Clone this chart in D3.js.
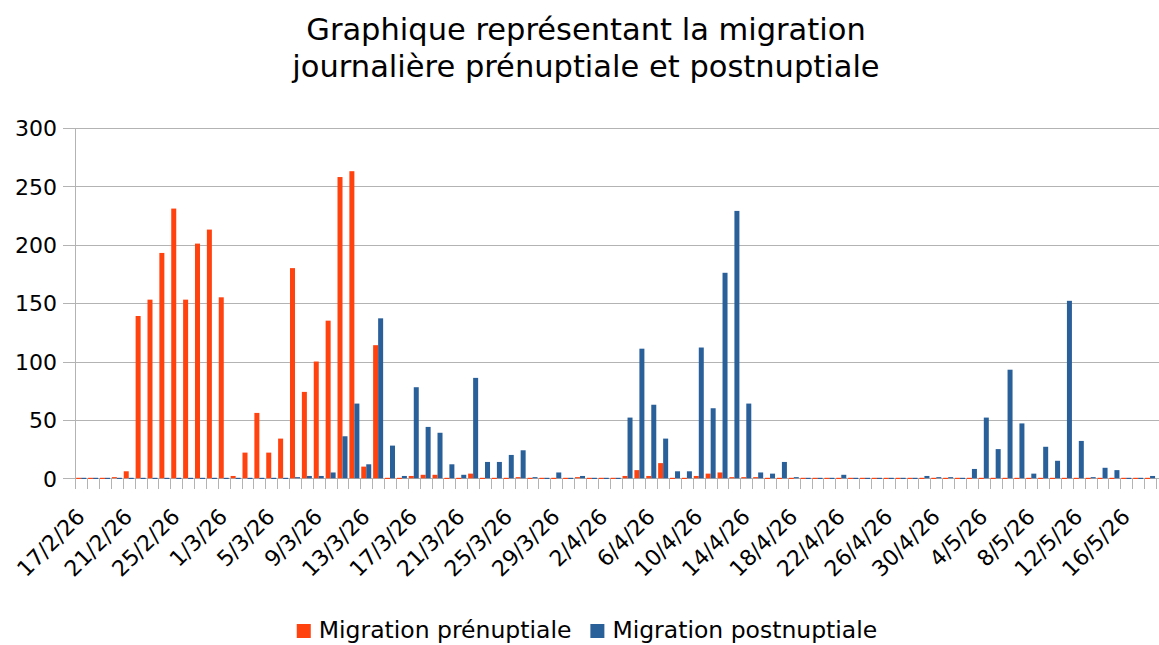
<!DOCTYPE html>
<html>
<head>
<meta charset="utf-8">
<script src="https://cdn.jsdelivr.net/npm/d3@7"></script>
<style>
  body { margin: 0; background: #fff; }
  svg { display: block; font-family: "DejaVu Sans", sans-serif; }
</style>
</head>
<body>
<svg class="chart" width="1159" height="645"></svg>
<script>
// daily categories 17/2/26 -> 18/5/26
var days = d3.timeDay.range(new Date(2026, 1, 17), new Date(2026, 4, 19))
var seriesNames = ['Migration prénuptiale', 'Migration postnuptiale']
var colors = ['#ff420e', '#2a6099']
var yTicks = [0, 50, 100, 150, 200, 250, 300]

var prenuptiale = [
    0, 0, 0, 1, 6, 139, 153, 193, 231, 153, 201, 213, 155, 2, 22, 56, 22, 34, 180, 74,
    100, 135, 258, 263, 10, 114, 0, 0, 2, 3, 3, 0, 0, 4, 0, 0, 0, 1, 0, 0,
    0, 0, 1, 0, 0, 0, 2, 7, 2, 13, 0, 0, 2, 4, 5, 1, 1, 1, 0, 0,
    0, 0, 0, 0, 0, 0, 0, 0, 0, 0, 0, 0, 0, 0, 0, 0, 0, 0, 0, 0,
    0, 0, 0, 0, 0, 0, 0, 0, 0, 0, 0
]
var postnuptiale = [
    0, 0, 0, 0, 0, 0, 0, 0, 0, 0, 0, 0, 0, 0, 0, 0, 0, 0, 1, 2,
    2, 5, 36, 64, 12, 137, 28, 2, 78, 44, 39, 12, 3, 86, 14, 14, 20, 24, 1, 0,
    5, 0, 2, 0, 0, 0, 52, 111, 63, 34, 6, 6, 112, 60, 176, 229, 64, 5, 4, 14,
    1, 0, 0, 0, 3, 0, 0, 0, 0, 0, 0, 2, 1, 1, 0, 8, 52, 25, 93, 47,
    4, 27, 15, 152, 32, 1, 9, 7, 0, 0, 2
]

var fmt = d3.timeFormat('%-d/%-m/%y')
var labels = days.map(fmt)

var svg = d3.select('.chart')

var xScale = d3.scaleBand().domain(labels).range([75.3, 1156]).padding(0)
var bw = xScale.bandwidth()
var xInner = d3.scaleBand().domain([0, 1]).range([bw / 2 - 5, bw / 2 + 5]).padding(0)
var yScale = d3.scaleLinear().domain([0, 300]).range([478.3, 128])

// title
svg.append('text')
    .attr('text-anchor', 'middle')
    .attr('font-size', 30.5)
    .attr('fill', '#000')
    .selectAll('tspan').data(['Graphique représentant la migration', 'journalière prénuptiale et postnuptiale'])
    .enter().append('tspan')
    .attr('x', 586)
    .attr('y', (d, i) => 40 + i * 37)
    .text(d => d)

// grid + y axis
svg.selectAll('.grid').data(yTicks)
    .enter().append('line')
    .attr('class', 'grid')
    .attr('x1', 63).attr('x2', 1159)
    .attr('y1', d => Math.round(yScale(d)) + 0.5)
    .attr('y2', d => Math.round(yScale(d)) + 0.5)
    .attr('stroke', '#b3b3b3')

svg.append('line')
    .attr('x1', 75.5).attr('x2', 75.5)
    .attr('y1', yScale(300)).attr('y2', yScale(0))
    .attr('stroke', '#b3b3b3')

svg.selectAll('.ylabel').data(yTicks)
    .enter().append('text')
    .attr('class', 'ylabel')
    .attr('x', 57)
    .attr('y', d => yScale(d) + 8.3)
    .attr('text-anchor', 'end')
    .attr('font-size', 22)
    .text(d => d)

// x ticks at category boundaries
var bounds = labels.map(d => xScale(d)).concat([xScale.range()[1]])
svg.selectAll('.xtick').data(bounds)
    .enter().append('line')
    .attr('class', 'xtick')
    .attr('x1', d => Math.round(d) + 0.5).attr('x2', d => Math.round(d) + 0.5)
    .attr('y1', yScale(0)).attr('y2', 489)
    .attr('stroke', '#b3b3b3')

// bars
var rows = labels.map((d, i) => ({ label: d, values: [prenuptiale[i], postnuptiale[i]] }))

var groups = svg.selectAll('.bar').data(rows)
    .enter().append('g')
    .attr('class', 'bar')
    .attr('transform', d => 'translate(' + xScale(d.label) + ', 0)')

groups.selectAll('rect').data(d => d.values)
    .enter().append('rect')
    .attr('x', (d, i) => xInner(i))
    .attr('width', xInner.bandwidth())
    .attr('y', d => yScale(d) - (d === 0 ? 0.5 : 0))
    .attr('height', d => Math.max(yScale(0) - yScale(d), 0) + (d === 0 ? 1.2 : 0))
    .attr('fill', (d, i) => colors[i])

// x labels every 4 days
svg.selectAll('.xlabel').data(labels.filter((d, i) => i % 4 === 0))
    .enter().append('text')
    .attr('class', 'xlabel')
    .attr('text-anchor', 'end')
    .attr('font-size', 22)
    .attr('transform', d => 'translate(' + (xScale(d) + bw / 2 + 5) + ', 518) rotate(-45)')
    .text(d => d)

// legend (kept just inside the bottom edge)
var legend = svg.append('g')
var lx = 0
seriesNames.forEach((name, i) => {
    legend.append('rect')
        .attr('x', lx).attr('y', 624)
        .attr('width', 14).attr('height', 14)
        .attr('fill', colors[i])
    var t = legend.append('text')
        .attr('x', lx + 22).attr('y', 638)
        .attr('font-size', 23.5)
        .text(name)
    lx += 22 + t.node().getComputedTextLength() + 19
})
var lw = lx - 19
legend.attr('transform', 'translate(' + (587 - lw / 2) + ', 0)')
</script>
</body>
</html>
